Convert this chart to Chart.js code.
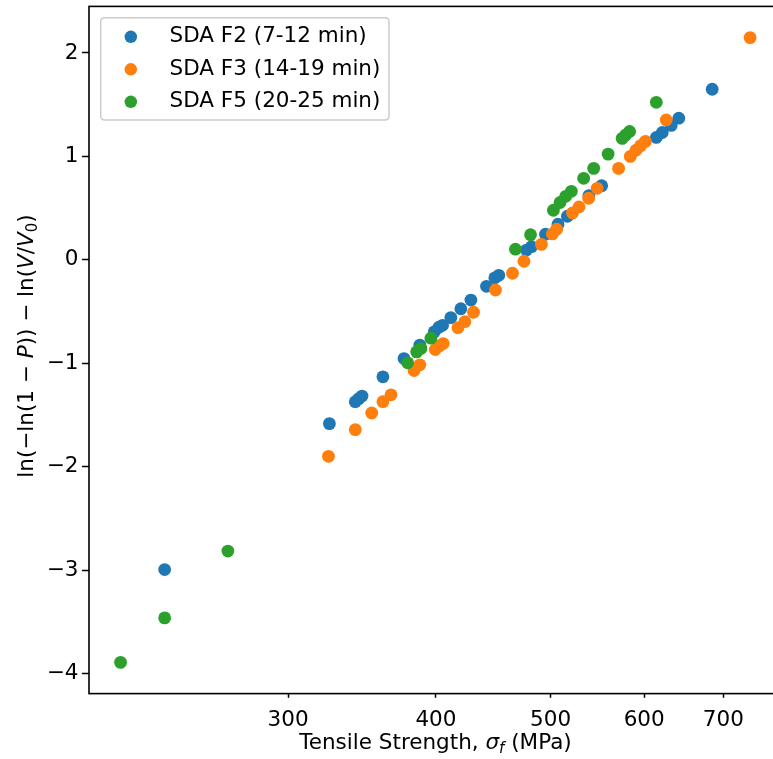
<!DOCTYPE html>
<html><head><meta charset="utf-8">
<script src="https://cdn.jsdelivr.net/npm/chart.js@4.4.0/dist/chart.umd.min.js"></script>
<style>
html,body{margin:0;padding:0;background:#fff;overflow:hidden;width:773px;height:759px;}
#wrap{position:absolute;left:0;top:0;width:792px;height:759px;}
</style></head><body>
<div id="wrap"><canvas id="c" width="792" height="759"></canvas></div>
<script>
// ---- data ----
const seriesLabels = ['SDA F2 (7-12 min)', 'SDA F3 (14-19 min)', 'SDA F5 (20-25 min)'];
const f2Strength = [684.9, 641.8, 632.4, 621.5, 614.3, 552.3, 538.8, 516.7, 507.3, 495.1, 481.8, 477.1, 452.1, 448.6, 441.4, 428.2, 419.9, 411.8, 405.2, 402.3, 398.7, 387.7, 375.9, 360.8, 346.4, 344.2, 341.9, 325.1, 235.9];
const f2Value = [1.649, 1.369, 1.299, 1.231, 1.183, 0.716, 0.621, 0.421, 0.344, 0.248, 0.127, 0.094, -0.150, -0.174, -0.256, -0.389, -0.473, -0.559, -0.633, -0.652, -0.697, -0.825, -0.955, -1.131, -1.317, -1.343, -1.372, -1.584, -2.995];
const f3Strength = [737.4, 626.3, 601.4, 595.8, 590.4, 584.0, 570.8, 547.5, 538.5, 528.5, 521.8, 506.0, 501.8, 491.2, 474.8, 464.3, 449.2, 430.4, 423.2, 417.5, 405.7, 402.6, 399.5, 387.7, 383.3, 366.5, 360.8, 353.0, 341.9, 324.5];
const f3Value = [2.148, 1.352, 1.145, 1.103, 1.060, 1.000, 0.884, 0.691, 0.595, 0.511, 0.453, 0.296, 0.250, 0.149, -0.014, -0.130, -0.292, -0.507, -0.598, -0.656, -0.810, -0.832, -0.868, -1.015, -1.070, -1.305, -1.372, -1.481, -1.642, -1.900];
const f5Strength = [614.3, 583.2, 578.7, 574.8, 559.3, 543.8, 533.3, 520.7, 515.0, 509.3, 502.8, 480.9, 467.0, 396.1, 388.5, 385.3, 378.6, 266.8, 235.9, 216.5];
const f5Value = [1.523, 1.241, 1.207, 1.174, 1.022, 0.884, 0.788, 0.662, 0.614, 0.554, 0.479, 0.243, 0.103, -0.758, -0.858, -0.890, -0.996, -2.816, -3.462, -3.892];
const xTickValues = [300, 400, 500, 600, 700];
const yTickValues = [-4, -3, -2, -1, 0, 1, 2];
const xRange = [203.6, 784.6];
const yRange = [-4.194, 2.45];

// ---- styling ----
const FONT = 'DejaVu Sans';
const FS = 21.5;
const COLORS = ['#1f77b4', '#ff7f0e', '#2ca02c'];

function pts(xs, ys) { return xs.map((x, i) => ({ x: x, y: ys[i] })); }
const seriesData = [pts(f2Strength, f2Value), pts(f3Strength, f3Value), pts(f5Strength, f5Value)];

function richMeasure(ctx, parts, size) {
  let w = 0;
  const items = parts.map(p => {
    const fs = p.sub ? size * 0.7 : size;
    const font = (p.it ? 'italic ' : '') + fs + 'px "' + FONT + '"';
    ctx.font = font;
    const pw = ctx.measureText(p.t).width;
    w += pw;
    return { t: p.t, font: font, pw: pw, dy: p.sub ? size * 0.22 : 0 };
  });
  return { items: items, w: w };
}
function richDraw(ctx, rich, x, y) {
  let cx = x;
  rich.items.forEach(it => { ctx.font = it.font; ctx.fillText(it.t, cx, y + it.dy); cx += it.pw; });
}

const xTitleParts = [{ t: 'Tensile Strength, ' }, { t: 'σ', it: true }, { t: 'f', it: true, sub: true }, { t: ' (MPa)' }];
const yTitleParts = [{ t: 'ln(−ln(1 − ' }, { t: 'P', it: true }, { t: ')) − ln(' }, { t: 'V', it: true }, { t: '/' }, { t: 'V', it: true }, { t: '0', sub: true }, { t: ')' }];

const decorPlugin = {
  id: 'decor',
  afterDraw(chart) {
    const ctx = chart.ctx;
    const ca = chart.chartArea;
    ctx.save();
    // frame
    ctx.strokeStyle = '#000';
    ctx.lineWidth = 1.6;
    ctx.strokeRect(ca.left, ca.top, ca.right - ca.left, ca.bottom - ca.top);
    // x title
    ctx.fillStyle = '#000';
    ctx.textBaseline = 'alphabetic';
    ctx.textAlign = 'left';
    const xr = richMeasure(ctx, xTitleParts, FS);
    richDraw(ctx, xr, (ca.left + ca.right) / 2 - xr.w / 2, 748.5);
    // y title
    const yr = richMeasure(ctx, yTitleParts, FS);
    ctx.save();
    ctx.translate(32.5, (ca.top + ca.bottom) / 2 - 4);
    ctx.rotate(-Math.PI / 2);
    richDraw(ctx, yr, -yr.w / 2, 0);
    ctx.restore();
    // legend
    const ds = chart.data.datasets;
    ctx.font = FS + 'px "' + FONT + '"';
    let maxW = 0;
    ds.forEach(d => { maxW = Math.max(maxW, ctx.measureText(d.label).width); });
    const bx = ca.left + 11.7, by = ca.top + 11.4;
    const pad = 0.4 * FS, handle = 2 * FS, htp = 0.8 * FS;
    const bw = pad * 2 + handle + htp + maxW;
    const rowPitch = 32.5;
    const bh = 102.3;
    const r = 4;
    ctx.beginPath();
    ctx.moveTo(bx + r, by);
    ctx.lineTo(bx + bw - r, by); ctx.quadraticCurveTo(bx + bw, by, bx + bw, by + r);
    ctx.lineTo(bx + bw, by + bh - r); ctx.quadraticCurveTo(bx + bw, by + bh, bx + bw - r, by + bh);
    ctx.lineTo(bx + r, by + bh); ctx.quadraticCurveTo(bx, by + bh, bx, by + bh - r);
    ctx.lineTo(bx, by + r); ctx.quadraticCurveTo(bx, by, bx + r, by);
    ctx.closePath();
    ctx.fillStyle = 'rgba(255,255,255,0.8)';
    ctx.fill();
    ctx.strokeStyle = '#cccccc';
    ctx.lineWidth = 1.5;
    ctx.stroke();
    ds.forEach((d, i) => {
      const cy = by + 19 + i * rowPitch;
      ctx.beginPath();
      ctx.arc(bx + pad + handle / 2, cy, 6.25, 0, Math.PI * 2);
      ctx.fillStyle = d.backgroundColor;
      ctx.fill();
      ctx.fillStyle = '#000';
      ctx.textBaseline = 'middle';
      ctx.textAlign = 'left';
      ctx.font = FS + 'px "' + FONT + '"';
      ctx.fillText(d.label, bx + pad + handle + htp, cy);
    });
    ctx.restore();
  }
};

const ctx = document.getElementById('c').getContext('2d');
new Chart(ctx, {
  type: 'scatter',
  data: {
    datasets: seriesLabels.map((lab, i) => ({
      label: lab,
      data: seriesData[i],
      backgroundColor: COLORS[i],
      borderColor: COLORS[i],
      borderWidth: 0,
      pointRadius: 6.4,
      pointHoverRadius: 6.4,
      order: 2 - i
    }))
  },
  options: {
    responsive: false,
    animation: false,
    devicePixelRatio: 1,
    events: [],
    layout: { padding: { left: 0, top: 4.6, right: 10, bottom: 0 } },
    plugins: { legend: { display: false }, tooltip: { enabled: false }, title: { display: false } },
    scales: {
      x: {
        type: 'logarithmic',
        position: 'bottom',
        bounds: 'data',
        min: xRange[0],
        max: xRange[1],
        afterBuildTicks: s => { s.ticks = xTickValues.map(v => ({ value: v })); },
        afterFit: s => { s.height = 759 - 693.6; s.paddingLeft = 0; s.paddingRight = 0; },
        ticks: {
          callback: v => String(v),
          font: { family: FONT, size: FS },
          color: '#000',
          padding: 10,
          maxRotation: 0,
          autoSkip: false
        },
        grid: { display: true, drawOnChartArea: false, drawTicks: true, tickLength: 4.2, tickWidth: 1.5, tickColor: '#000', color: 'rgba(0,0,0,0)' },
        border: { display: false },
        title: { display: false }
      },
      y: {
        type: 'linear',
        position: 'left',
        bounds: 'data',
        min: yRange[0],
        max: yRange[1],
        afterBuildTicks: s => { s.ticks = yTickValues.map(v => ({ value: v })); },
        afterFit: s => { s.width = 89; s.paddingTop = 0; s.paddingBottom = 0; },
        ticks: {
          callback: v => (v < 0 ? '\u2212' + Math.abs(v) : String(v)),
          font: { family: FONT, size: FS },
          color: '#000',
          padding: 3.5,
          autoSkip: false
        },
        grid: { display: true, drawOnChartArea: false, drawTicks: true, tickLength: 7, tickWidth: 1.5, tickColor: '#000', color: 'rgba(0,0,0,0)' },
        border: { display: false },
        title: { display: false }
      }
    }
  },
  plugins: [decorPlugin]
});
</script>
</body></html>
